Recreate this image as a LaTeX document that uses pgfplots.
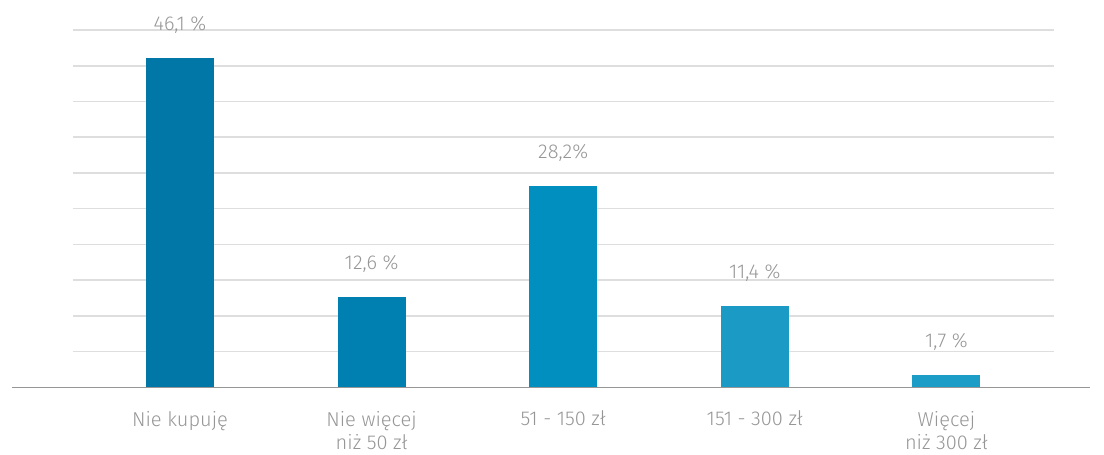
\documentclass[border=0pt]{standalone}
\usepackage{pgfplots}
\pgfplotsset{compat=1.18}
\usepackage{fontspec}
\setmainfont{Fira Sans}[UprightFont={* Light}]
\definecolor{c1}{RGB}{0,119,167}
\definecolor{c2}{RGB}{0,128,176}
\definecolor{c3}{RGB}{0,143,190}
\definecolor{c4}{RGB}{27,154,198}
\definecolor{c5}{RGB}{28,157,200}
\definecolor{gridgray}{RGB}{222,222,222}
\definecolor{basegray}{RGB}{150,150,150}
\definecolor{labgray}{RGB}{150,150,150}
\begin{document}
\begin{tikzpicture}
\begin{axis}[
  scale only axis, width=490pt, height=178.5pt,
  xmin=-0.56, xmax=4.56, ymin=0, ymax=50,
  ybar, bar width=34pt, bar shift=0pt,
  axis line style={draw=none}, major tick style={draw=none},
  ytick={5,10,...,50}, yticklabels={}, ymajorgrids,
  grid style={color=gridgray, line width=0.75pt},
  xtick={0,...,4},
  xticklabels={Nie kupuję, {Nie więcej\\niż 50 zł}, 51 - 150 zł, 151 - 300 zł, {Więcej\\niż 300 zł}},
  xticklabel style={align=center, font=\fontsize{10}{11.5}\selectfont, text=labgray, yshift=-4pt},
  point meta=explicit symbolic,
  nodes near coords,
  nodes near coords style={anchor=center, yshift=16.5pt, text=labgray, font=\fontsize{10}{12}\selectfont},
  clip=false,
]
\addplot[fill=c1, draw=none] coordinates {(0,46.1) [46,1 \%]};
\addplot[fill=c2, draw=none] coordinates {(1,12.6) [12,6 \%]};
\addplot[fill=c3, draw=none] coordinates {(2,28.2) [28,2\%]};
\addplot[fill=c4, draw=none] coordinates {(3,11.4) [11,4 \%]};
\addplot[fill=c5, draw=none] coordinates {(4,1.7) [1,7 \%]};
\draw[line width=0.75pt, color=basegray] (axis cs:-0.877,0) -- (axis cs:4.75,0);
\coordinate (bl) at (axis cs:-0.9395,-9.38);
\coordinate (tr) at (axis cs:4.8225,54.2);
\end{axis}
\pgfresetboundingbox
\path[use as bounding box] (bl) rectangle (tr);
\end{tikzpicture}
\end{document}
